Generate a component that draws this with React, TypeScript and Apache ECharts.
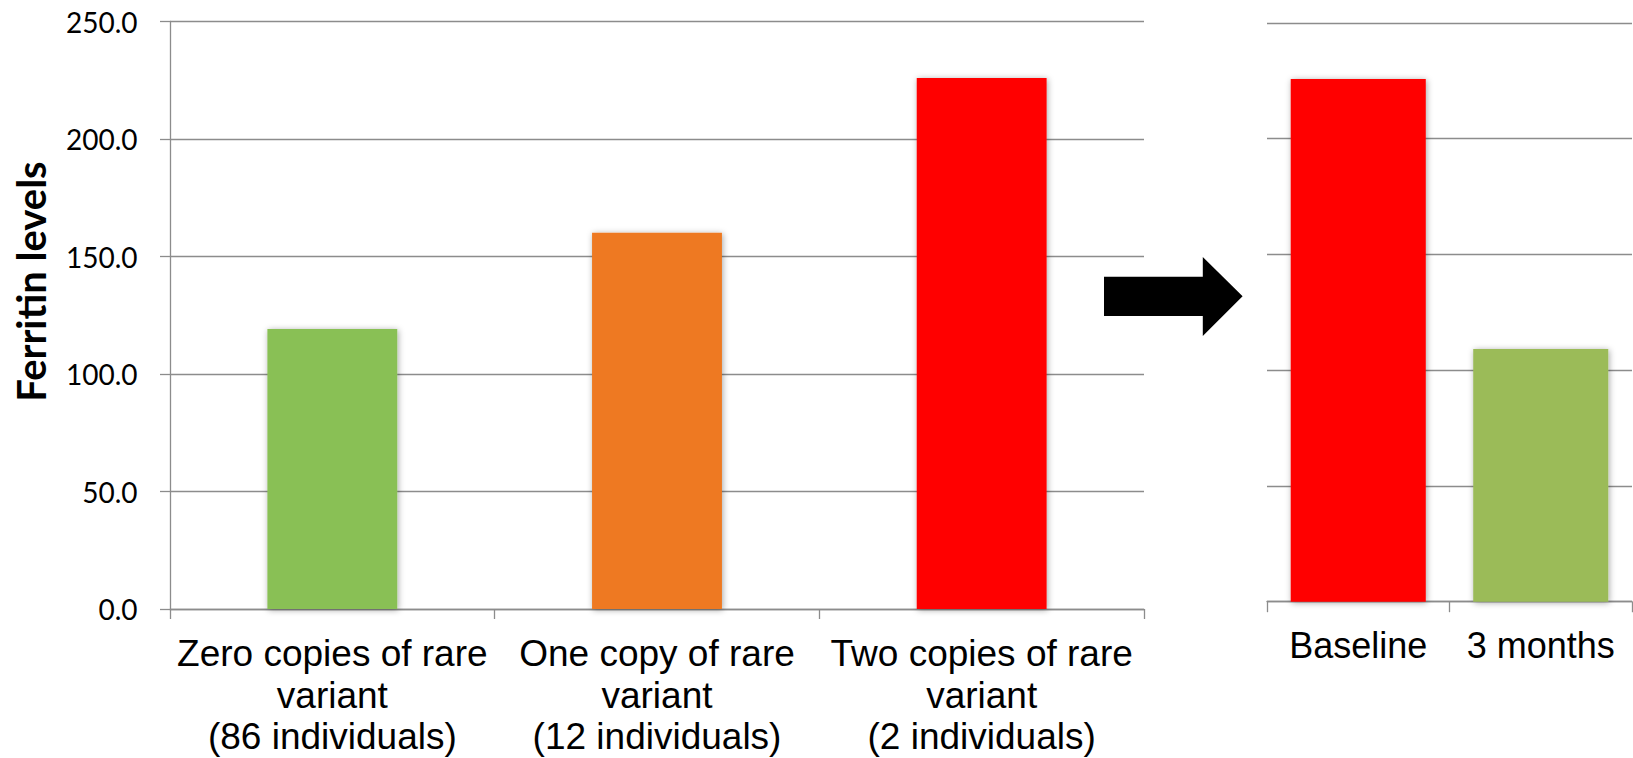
import React, { useEffect, useRef } from "react";
import * as echarts from "echarts";

// ---- data ----
const leftCategories = [
  "Zero copies of rare\nvariant\n(86 individuals)",
  "One copy of rare\nvariant\n(12 individuals)",
  "Two copies of rare\nvariant\n(2 individuals)",
];
const leftValues = [119.2, 160.1, 226.0];
const rightCategories = ["Baseline", "3 months"];
const rightValues = [225.8, 109.2];
const yTicks = { min: 0, max: 250, interval: 50 };
const yTitle = "Ferritin levels";

// ---- styles ----
const leftColors = ["#89C054", "#EE7921", "#FF0000"];
const rightColors = ["#FF0000", "#9BBB59"];
const GRID_GRAY = "#8C8C8C";

export default function App() {
  const ref = useRef<HTMLDivElement>(null);

  useEffect(() => {
    if (!ref.current) return;
    const chart = echarts.init(ref.current, undefined, { renderer: "svg" });

    const barShadow = {
      shadowBlur: 6,
      shadowColor: "rgba(0,0,0,0.35)",
      shadowOffsetX: 1,
      shadowOffsetY: 1,
    };

    const option: any = {
      animation: false,
      backgroundColor: "#ffffff",
      grid: [
        { left: 170, top: 21.5, width: 974, height: 587.5, outerBoundsMode: "none", containLabel: false },
        { left: 1267, top: 23, width: 365, height: 578.7, outerBoundsMode: "none", containLabel: false },
      ],
      xAxis: [
        {
          type: "category",
          gridIndex: 0,
          data: leftCategories,
          axisLine: { show: true, lineStyle: { color: GRID_GRAY, width: 1.3 } },
          axisTick: { show: true, length: 10, lineStyle: { color: GRID_GRAY, width: 1.3 } },
          axisLabel: {
            interval: 0,
            margin: 24,
            color: "#000",
            fontFamily: "'Liberation Sans', Arial, sans-serif",
            fontSize: 37,
            lineHeight: 41.5,
            align: "center",
          },
        },
        {
          type: "category",
          gridIndex: 1,
          data: rightCategories,
          axisLine: { show: true, lineStyle: { color: GRID_GRAY, width: 1.3 } },
          axisTick: { show: true, length: 10.5, lineStyle: { color: GRID_GRAY, width: 1.3 } },
          axisLabel: {
            interval: 0,
            margin: 23,
            color: "#000",
            fontFamily: "'Liberation Sans', Arial, sans-serif",
            fontSize: 36,
            lineHeight: 41.5,
          },
        },
      ],
      yAxis: [
        {
          type: "value",
          gridIndex: 0,
          min: yTicks.min,
          max: yTicks.max,
          interval: yTicks.interval,
          axisLine: { show: true, lineStyle: { color: GRID_GRAY, width: 1.3 } },
          axisTick: { show: true, length: 10, lineStyle: { color: GRID_GRAY, width: 1.3 } },
          splitLine: { show: true, lineStyle: { color: GRID_GRAY, width: 1.3 } },
          axisLabel: {
            margin: 32.5,
            color: "#000",
            fontFamily: "Lato, 'Open Sans', sans-serif",
            fontSize: 28,
            formatter: (v: number) => v.toFixed(1),
          },
        },
        {
          type: "value",
          gridIndex: 1,
          min: yTicks.min,
          max: yTicks.max,
          interval: yTicks.interval,
          axisLine: { show: false },
          axisTick: { show: false },
          axisLabel: { show: false },
          splitLine: { show: true, lineStyle: { color: GRID_GRAY, width: 1.3 } },
        },
      ],
      series: [
        {
          type: "bar",
          xAxisIndex: 0,
          yAxisIndex: 0,
          barWidth: "40%",
          data: leftValues.map((v, i) => ({
            value: v,
            itemStyle: { color: leftColors[i], ...barShadow },
          })),
        },
        {
          type: "bar",
          xAxisIndex: 1,
          yAxisIndex: 1,
          barWidth: "74%",
          data: rightValues.map((v, i) => ({
            value: v,
            itemStyle: { color: rightColors[i], ...barShadow },
          })),
        },
      ],
      graphic: [
        {
          type: "text",
          x: 31.2,
          y: 281.5,
          rotation: Math.PI / 2,
          style: {
            text: yTitle,
            font: "bold 40px Lato, 'Open Sans', sans-serif",
            fill: "#000",
            align: "center",
            verticalAlign: "middle",
            textAlign: "center",
            textVerticalAlign: "middle",
          },
        },
        {
          type: "polygon",
          shape: {
            points: [
              [1104, 276.7],
              [1202.8, 276.7],
              [1202.8, 257],
              [1242.6, 296.3],
              [1202.8, 336],
              [1202.8, 316],
              [1104, 316],
            ],
          },
          style: { fill: "#000" },
        },
      ],
    };

    chart.setOption(option);
    return () => chart.dispose();
  }, []);

  return (
    <div
      ref={ref}
      style={{ position: "absolute", left: 0, top: 0, width: 1633, height: 758, background: "#fff" }}
    />
  );
}
